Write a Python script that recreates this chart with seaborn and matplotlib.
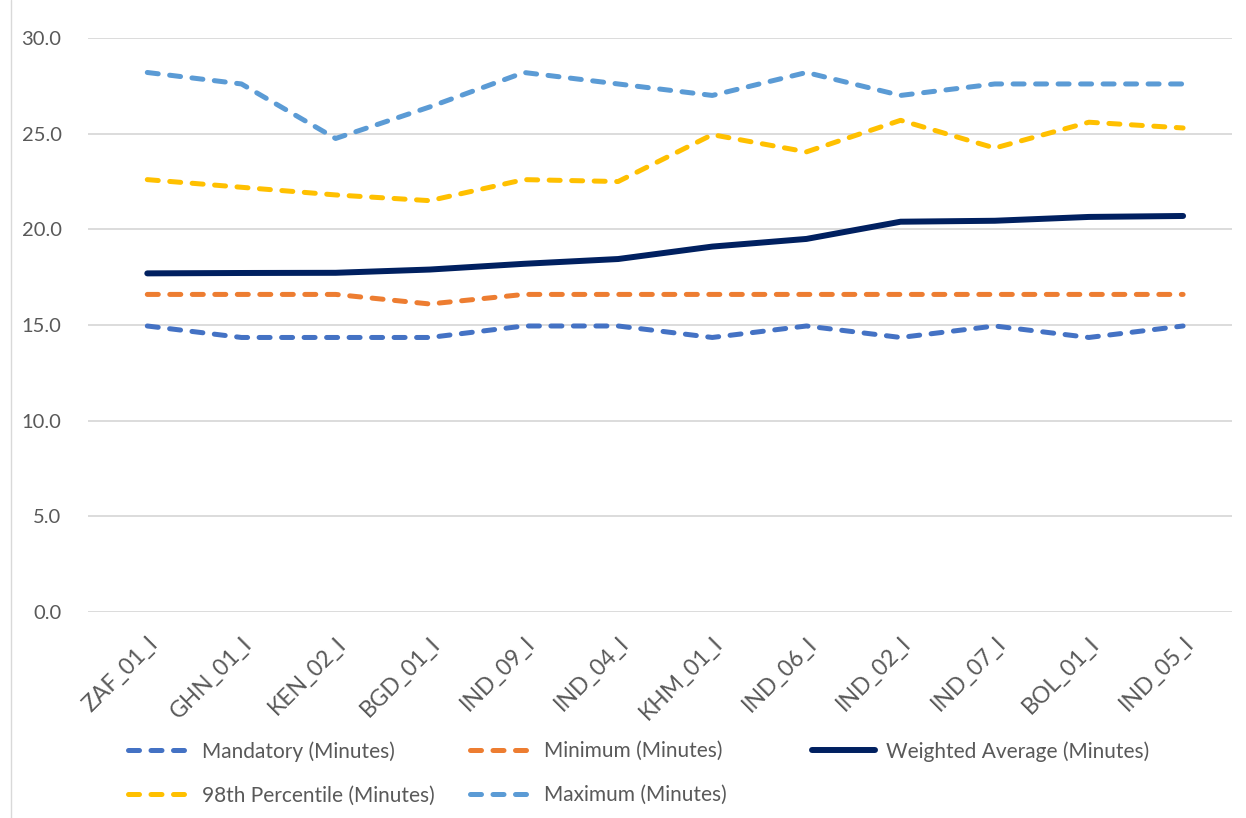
import pandas as pd
import matplotlib.pyplot as plt
import seaborn as sns
from matplotlib.lines import Line2D

# Sites along the x axis
sites = ['ZAF_01_I', 'GHN_01_I', 'KEN_02_I', 'BGD_01_I', 'IND_09_I', 'IND_04_I',
         'KHM_01_I', 'IND_06_I', 'IND_02_I', 'IND_07_I', 'BOL_01_I', 'IND_05_I']

mandatory = [14.95, 14.35, 14.35, 14.35, 14.95, 14.95, 14.35, 14.95, 14.35, 14.95, 14.35, 14.95]
minimum = [16.6, 16.6, 16.6, 16.1, 16.6, 16.6, 16.6, 16.6, 16.6, 16.6, 16.6, 16.6]
weighted_avg = [17.7, 17.72, 17.73, 17.9, 18.2, 18.45, 19.1, 19.5, 20.4, 20.45, 20.65, 20.7]
pct98 = [22.6, 22.2, 21.8, 21.5, 22.6, 22.5, 24.95, 24.05, 25.7, 24.25, 25.6, 25.3]
maximum = [28.2, 27.6, 24.75, 26.4, 28.2, 27.6, 27.0, 28.2, 27.0, 27.6, 27.6, 27.6]

series_names = ['Mandatory (Minutes)', 'Minimum (Minutes)', 'Weighted Average (Minutes)',
                '98th Percentile (Minutes)', 'Maximum (Minutes)']
series_values = [mandatory, minimum, weighted_avg, pct98, maximum]
colors = ['#4472C4', '#ED7D31', '#002060', '#FFC000', '#5B9BD5']

rows = []
for name, vals in zip(series_names, series_values):
    for s, v in zip(sites, vals):
        rows.append({'site': s, 'series': name, 'value': v})
df = pd.DataFrame(rows)

sns.set_theme(style='white')
plt.rcParams['font.family'] = ['Lato', 'DejaVu Sans']
text_color = '#595959'

fig = plt.figure(figsize=(12.46, 8.18), dpi=100)
ax = fig.add_axes([0.0706, 0.2518, 0.9182, 0.7017])

dash = (2.2, 2.3)
dashes = {name: (dash if name != 'Weighted Average (Minutes)' else '') for name in series_names}
sns.lineplot(data=df, x='site', y='value', hue='series', style='series',
             palette=dict(zip(series_names, colors)), dashes=dashes,
             sort=False, ax=ax, legend=False)

lines = ax.get_lines()
for ln, name in zip(lines, series_names):
    if name == 'Weighted Average (Minutes)':
        ln.set_linewidth(4.3)
        ln.set_solid_capstyle('round')
    else:
        ln.set_linewidth(3.6)
        ln.set_dash_capstyle('round')

ax.set_ylim(0, 30)
ax.set_yticks([0, 5, 10, 15, 20, 25, 30])
ax.set_yticklabels([f'{v:.1f}' for v in [0, 5, 10, 15, 20, 25, 30]])
ax.set_xlim(-0.63, 11.52)
ax.grid(axis='y', color='#D9D9D9', linewidth=1.3)
ax.grid(axis='x', visible=False)
ax.set_axisbelow(True)
for sp in ax.spines.values():
    sp.set_visible(False)
ax.set_xlabel('')
ax.set_ylabel('')
ax.tick_params(axis='y', length=0, pad=19, labelsize=14.5, labelcolor=text_color)
ax.tick_params(axis='x', length=0, pad=15, labelsize=16.5, labelcolor=text_color)
plt.setp(ax.get_xticklabels(), rotation=45, ha='right', rotation_mode='anchor')

# legend laid out like Excel: three equal-width columns, filled row by row
col_x = [128, 470, 812]
col_items = [[0, 3], [1, 4], [2]]
legends = []
for cx, items in zip(col_x, col_items):
    leg = ax.legend([lines[i] for i in items], [series_names[i] for i in items],
                    loc='upper left', bbox_to_anchor=(cx / 1246, 1 - 741 / 818),
                    bbox_transform=fig.transFigure, frameon=False, fontsize=15,
                    handlelength=3.0, handletextpad=0.55, labelspacing=1.15,
                    borderpad=0, borderaxespad=0, labelcolor=text_color)
    legends.append(leg)
# the last one stays as ax.legend_, only add the others as extra artists
for leg in legends[:-1]:
    ax.add_artist(leg)

# chart border on the left edge
fig.add_artist(Line2D([0.009, 0.009], [0, 1], transform=fig.transFigure, color='#D9D9D9', linewidth=1))

fig.savefig('out.png', dpi=100)
